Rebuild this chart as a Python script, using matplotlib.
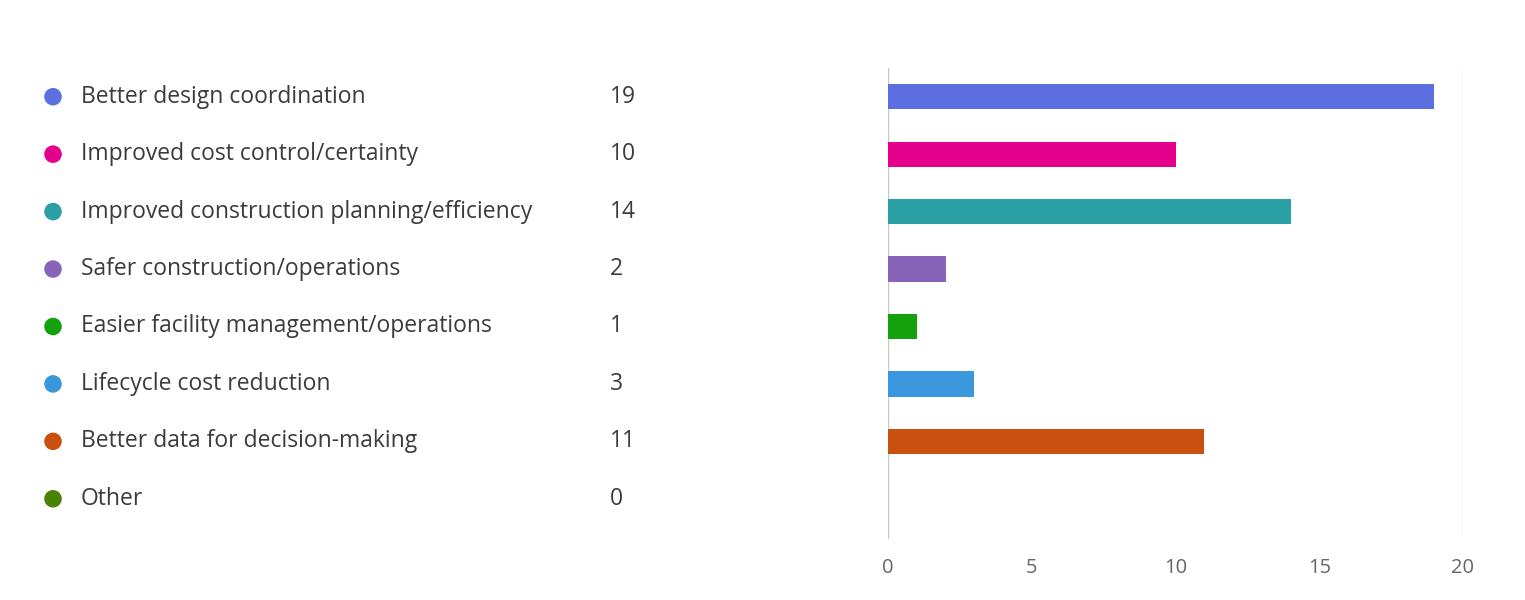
import matplotlib.pyplot as plt
import numpy as np

# survey answers
categories = [
    "Better design coordination",
    "Improved cost control/certainty",
    "Improved construction planning/efficiency",
    "Safer construction/operations",
    "Easier facility management/operations",
    "Lifecycle cost reduction",
    "Better data for decision-making",
    "Other",
]
counts = [19, 10, 14, 2, 1, 3, 11, 0]
colors = ["#5b6fe0", "#e3008c", "#2aa0a4", "#8764b8",
          "#13a10e", "#3a96dd", "#ca5010", "#498205"]
x_ticks = [0, 5, 10, 15, 20]

plt.rcParams['font.family'] = ['Open Sans', 'DejaVu Sans']

W, H = 1525, 600
fig = plt.figure(figsize=(W / 100, H / 100), dpi=100)

y_top, y_bot = -0.5, 7.7
rows = np.arange(len(categories))

# bar chart on the right
ax = fig.add_axes([888 / W, 1 - 539 / H, (1463 - 888) / W, (539 - 68) / H])
ax.barh(rows, counts, height=0.44, color=colors, zorder=3)
ax.set_xlim(0, 20)
ax.set_ylim(y_bot, y_top)
ax.set_xticks(x_ticks)
ax.set_yticks([])
for s in ax.spines.values():
    s.set_visible(False)
ax.axvline(0, color="#c8c8c8", lw=1, zorder=2)
ax.axvline(20, color="#dedede", lw=1, zorder=2)
ax.tick_params(axis="x", length=0, pad=14, labelsize=14.5, labelcolor="#666666")

# legend list on the left
lax = fig.add_axes([0, 1 - 539 / H, 888 / W, (539 - 68) / H])
lax.set_xlim(0, 888)
lax.set_ylim(y_bot, y_top)
lax.axis("off")
lax.scatter(np.full(len(rows), 53), rows, s=135, c=colors, zorder=3)
for r, name, n in zip(rows, categories, counts):
    lax.text(81, r, name, va="center", ha="left", fontsize=16.5, color="#3b3b3b")
    lax.text(610, r, str(n), va="center", ha="left", fontsize=16.5, color="#3b3b3b")

fig.savefig("out.png", dpi=100, facecolor="white")
